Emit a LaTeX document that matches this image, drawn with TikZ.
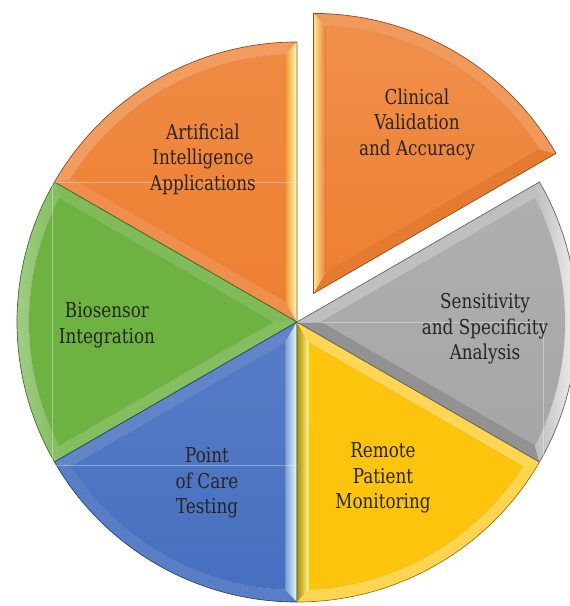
\documentclass[tikz,border=0pt]{standalone}
\usepackage{fontspec}
\setmainfont{DejaVu Serif}[FakeStretch=0.82]
\usetikzlibrary{calc}

\definecolor{orangeA}{RGB}{238,128,50}
\definecolor{grayA}{RGB}{166,166,166}
\definecolor{yellowA}{RGB}{252,196,12}
\definecolor{blueA}{RGB}{70,112,192}
\definecolor{greenA}{RGB}{110,178,66}
\definecolor{labelcol}{RGB}{40,36,32}

\tikzset{
  labeltext/.style={text=labelcol, align=center, inner sep=0pt,
    font=\fontsize{20.5}{25.5}\selectfont},
  frameline/.style={draw=white, opacity=0.35, line width=0.6pt},
}

% One bevelled pie slice of 60 degrees.
% #1 vertex, #2 start angle, #3 base colour,
% #4 style of the band along the start edge, #5 along the end edge,
% #6 along the arc, #7 style of the inner face
\newcommand\bevelslice[7]{%
  \pgfmathsetmacro\aA{#2}%
  \pgfmathsetmacro\aB{#2+60}%
  \pgfmathsetmacro\aM{#2+30}%
  \pgfmathsetmacro\dl{asin(12/268)}%
  \pgfmathsetmacro\qA{\aA+\dl}%
  \pgfmathsetmacro\qB{\aB-\dl}%
  \coordinate (P1) at ($(#1)+(\aA:280pt)$);
  \coordinate (P2) at ($(#1)+(\aB:280pt)$);
  \coordinate (Vi) at ($(#1)+(\aM:24pt)$);
  \coordinate (Q1) at ($(#1)+(\qA:268pt)$);
  \coordinate (Q2) at ($(#1)+(\qB:268pt)$);
  % inner face
  \path[#7] (Vi) -- (Q1) arc[start angle=\qA, end angle=\qB, radius=268pt] -- cycle;
  % bevel bands
  \path[#4] (#1) -- (P1) -- (Q1) -- (Vi) -- cycle;
  \path[#5] (#1) -- (Vi) -- (Q2) -- (P2) -- cycle;
  \path[#6] (P1) arc[start angle=\aA, end angle=\aB, radius=280pt]
     -- (Q2) arc[start angle=\qB, end angle=\qA, radius=268pt] -- cycle;
  % inner bevel ridge and outline
  \draw[#3!75!black, opacity=0.35, line width=0.5pt]
     (Vi) -- (Q1) arc[start angle=\qA, end angle=\qB, radius=268pt] -- cycle;
  \draw[#3!60!black, line width=0.7pt]
     (#1) -- (P1) arc[start angle=\aA, end angle=\aB, radius=280pt] -- cycle;
}

\begin{document}
\begin{tikzpicture}[x=1pt, y=1pt]
  \useasboundingbox (0,0) rectangle (570,606);
  \clip (0,0) rectangle (570,606);
  \fill[white] (0,0) rectangle (570,606);

  \coordinate (c) at (297,284);
  \coordinate (cx) at ($(c)+(60:33pt)$);

  % Artificial Intelligence Applications
  \bevelslice{c}{90}{orangeA}
    {left color=orangeA!85!yellow, right color=yellow!25!white}
    {fill=orangeA!88!white}
    {fill=orangeA!78!white}
    {top color=orangeA!92!white, bottom color=orangeA}
  % Biosensor Integration
  \bevelslice{c}{150}{greenA}
    {fill=greenA!88!white}
    {fill=greenA!85!white}
    {left color=greenA!60!white, right color=greenA!85!white}
    {fill=greenA}
  % Point of Care Testing
  \bevelslice{c}{210}{blueA}
    {fill=blueA!85!white}
    {left color=blueA!70!white, right color=cyan!12!white}
    {fill=blueA!90!white}
    {top color=blueA!92!white, bottom color=blueA}
  % Remote Patient Monitoring
  \bevelslice{c}{270}{yellowA}
    {left color=yellowA!70!black, right color=yellow!45!white}
    {fill=yellowA!70!white}
    {fill=yellowA!72!white}
    {fill=yellowA}
  % Sensitivity and Specificity Analysis
  \bevelslice{c}{-30}{grayA}
    {fill=grayA!88!black}
    {fill=grayA!72!white}
    {left color=grayA!75!white, right color=white}
    {top color=grayA!90!white, bottom color=grayA}
  % Clinical Validation and Accuracy (pulled out)
  \bevelslice{cx}{30}{orangeA}
    {fill=orangeA!96!black}
    {left color=orangeA!40!yellow!45!white, right color=orangeA}
    {fill=orangeA!80!white}
    {top color=orangeA!88!white, bottom color=orangeA}

  % text frame edges
  \draw[frameline] (55,424) -- (297,424);
  \draw[frameline] (55,141) -- (297,141);
  \draw[frameline] (52,424) -- (52,141);
  \draw[frameline] (297,284) -- (543,284) -- (543,146);

  \node[labeltext] (clin) at (417,482) {Clinical\\Validation\\and Accuracy};
  \node[labeltext] (ai)   at (203,447) {Artificial\\Intelligence\\Applications};
  \node[labeltext] (sens) at (485,277) {Sensitivity\\and Specificity\\Analysis};
  \node[labeltext] (bio)  at (107,281) {Biosensor\\Integration};
  \node[labeltext] (poc)  at (207,123) {Point\\of Care\\Testing};
  \node[labeltext] (rpm)  at (383,128) {Remote\\Patient\\Monitoring};
\end{tikzpicture}
\end{document}
